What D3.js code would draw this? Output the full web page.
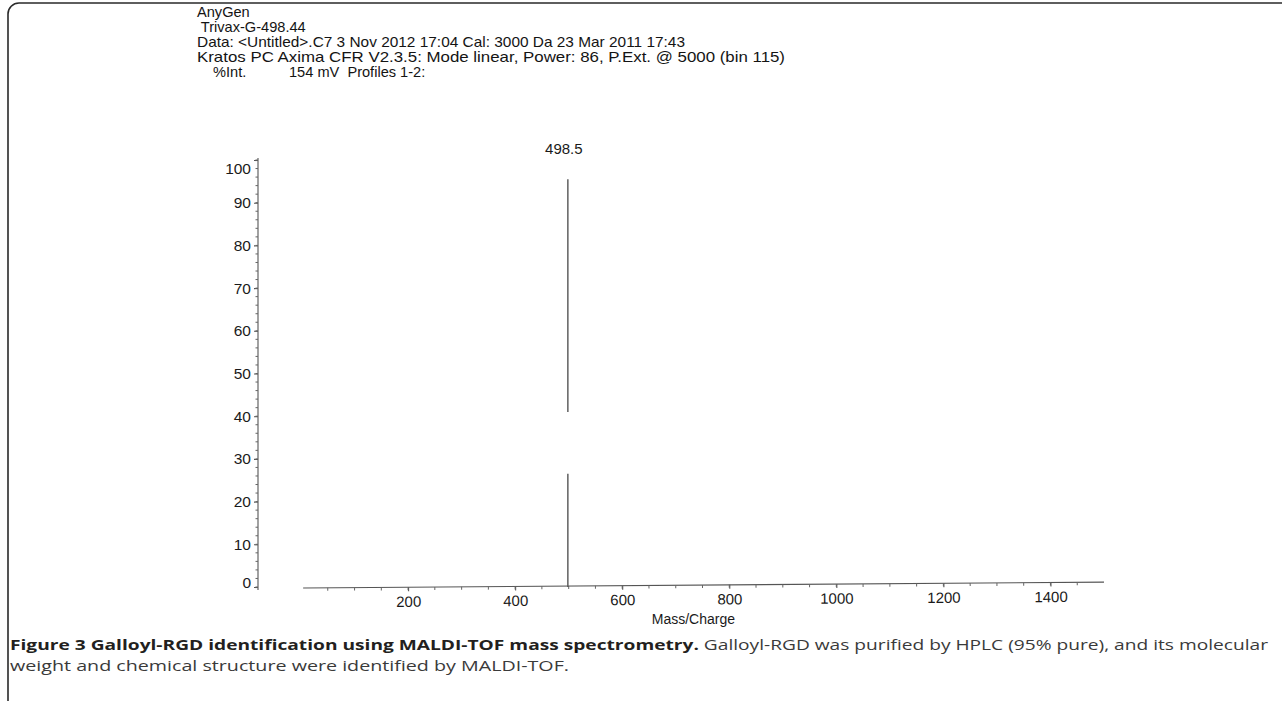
<!DOCTYPE html>
<html>
<head>
<meta charset="utf-8">
<script src="https://cdn.jsdelivr.net/npm/d3@7"></script>
<style>
  html, body { margin: 0; padding: 0; background: #fff; }
  svg { display: block; }
</style>
</head>
<body>
<svg id="chart" width="1282" height="701"></svg>
<script>
// ---------- data ----------
const headerLines = [
  "AnyGen",
  " Trivax-G-498.44",
  "Data: <Untitled>.C7 3 Nov 2012 17:04 Cal: 3000 Da 23 Mar 2011 17:43",
  "Kratos PC Axima CFR V2.3.5: Mode linear, Power: 86, P.Ext. @ 5000 (bin 115)"
];
const intLabel = "%Int.";
const profileLabel = "154 mV  Profiles 1-2:";
const xTickValues = [200, 400, 600, 800, 1000, 1200, 1400];
const xMinorTicks = d3.range(50, 1500, 50);
const yTickValues = [0, 10, 20, 30, 40, 50, 60, 70, 80, 90, 100];
const yMinorTicks = d3.range(0, 101, 2);
const xDomain = [0, 1500];
const yDomain = [0, 100];
const peakMz = [498.5];
const peakLabels = ["498.5"];
const peakIntensity = [95.5];
// visible parts of the printed peak trace (intensity ranges)
const peakTraceSegments = [[0, 26.5], [41, 95.5]];
const xAxisTitle = "Mass/Charge";
const captionBold = "Figure 3 Galloyl-RGD identification using MALDI-TOF mass spectrometry.";
const captionRest1 = " Galloyl-RGD was purified by HPLC (95% pure), and its molecular";
const captionLine2 = "weight and chemical structure were identified by MALDI-TOF.";

// ---------- drawing ----------
const svg = d3.select("#chart");

// frame (rounded top-left corner)
svg.append("path")
  .attr("d", "M8,701 L8,14 A11,11 0 0 1 19,3 L1282,3")
  .attr("fill", "none")
  .attr("stroke", "#2a2a2a")
  .attr("stroke-width", 1.6);

const x = d3.scaleLinear().domain(xDomain).range([301, 1104]);
const y = d3.scaleLinear().domain(yDomain).range([587, 160]);

const specFont = "'Liberation Sans', Arial, sans-serif";

// header text
const header = svg.append("g").attr("font-family", specFont).attr("font-size", 14.6).attr("fill", "#141414");
const headerFit = [null, null, 488, 588];
headerLines.forEach((t, i) => {
  const el = header.append("text")
    .attr("x", 197)
    .attr("y", 17 + i * 15)
    .attr("xml:space", "preserve")
    .style("white-space", "pre")
    .text(t);
  if (headerFit[i]) el.attr("textLength", headerFit[i]).attr("lengthAdjust", "spacingAndGlyphs");
});
header.append("text").attr("x", 213).attr("y", 77).text(intLabel);
header.append("text").attr("x", 289).attr("y", 77)
  .attr("xml:space", "preserve").style("white-space", "pre").text(profileLabel);

// y axis
const yAxis = d3.axisLeft(y).tickValues(yTickValues).tickSize(4).tickSizeOuter(0).tickPadding(3);
const gy = svg.append("g").attr("transform", "translate(258,0)").call(yAxis);
gy.selectAll(".tick text")
  .attr("font-family", specFont).attr("font-size", 15.5).attr("fill", "#1a1a1a")
  .attr("dy", d => d === 100 ? "0.9em" : d === 0 ? "0.05em" : "0.32em");
gy.selectAll("path, line").attr("stroke", "#555").attr("stroke-width", 1.1);
gy.select(".domain").attr("d", `M0,${y(0) + 3}V${y(100) - 2}`);
gy.selectAll(".minor").data(yMinorTicks).enter().append("line")
  .attr("class", "minor")
  .attr("x1", -2.5).attr("x2", 0)
  .attr("y1", d => y(d)).attr("y2", d => y(d))
  .attr("stroke", "#666").attr("stroke-width", 1);

// x axis (slightly tilted like the scanned print)
const xAxis = d3.axisBottom(x).tickValues(xTickValues).tickFormat(d3.format("d"))
  .tickSize(4).tickSizeOuter(0).tickPadding(5);
const gx = svg.append("g")
  .attr("transform", `rotate(-0.42, ${x(0)}, 588) translate(0,588)`)
  .call(xAxis);
gx.selectAll(".tick text")
  .attr("font-family", specFont).attr("font-size", 15).attr("fill", "#1a1a1a");
gx.selectAll("path, line").attr("stroke", "#555").attr("stroke-width", 1.1);
gx.select(".domain").attr("d", `M${x(4)},0H${x(1500)}`);
gx.selectAll(".minor").data(xMinorTicks).enter().append("line")
  .attr("class", "minor")
  .attr("x1", d => x(d)).attr("x2", d => x(d))
  .attr("y1", 0).attr("y2", 3)
  .attr("stroke", "#666").attr("stroke-width", 1);

svg.append("text")
  .attr("x", x(733)).attr("y", 624)
  .attr("text-anchor", "middle")
  .attr("font-family", specFont).attr("font-size", 14).attr("fill", "#1a1a1a")
  .text(xAxisTitle);

// peak trace
peakMz.forEach((mz, i) => {
  svg.append("g").selectAll("line").data(peakTraceSegments).enter().append("line")
    .attr("x1", x(mz)).attr("x2", x(mz))
    .attr("y1", d => y(d[0])).attr("y2", d => y(d[1]))
    .attr("stroke", "#555").attr("stroke-width", 1.4);
  svg.append("text")
    .attr("x", x(mz) - 4).attr("y", y(peakIntensity[i]) - 25)
    .attr("text-anchor", "middle")
    .attr("font-family", specFont).attr("font-size", 15).attr("fill", "#1a1a1a")
    .text(peakLabels[i]);
});

// caption
const capFont = "'Open Sans', 'Noto Sans', sans-serif";
const cap1 = svg.append("text").attr("x", 10).attr("y", 650)
  .attr("font-family", capFont).attr("font-size", 15).attr("fill", "#3a3a3a")
  .attr("xml:space", "preserve").style("white-space", "pre");
cap1.append("tspan").attr("font-weight", "bold").attr("fill", "#231f20").text(captionBold);
cap1.append("tspan").text(captionRest1);
cap1.attr("textLength", 1258).attr("lengthAdjust", "spacingAndGlyphs");
svg.append("text").attr("x", 10).attr("y", 671)
  .attr("font-family", capFont).attr("font-size", 15).attr("fill", "#3a3a3a")
  .text(captionLine2)
  .attr("textLength", 559).attr("lengthAdjust", "spacingAndGlyphs");
</script>
</body>
</html>
